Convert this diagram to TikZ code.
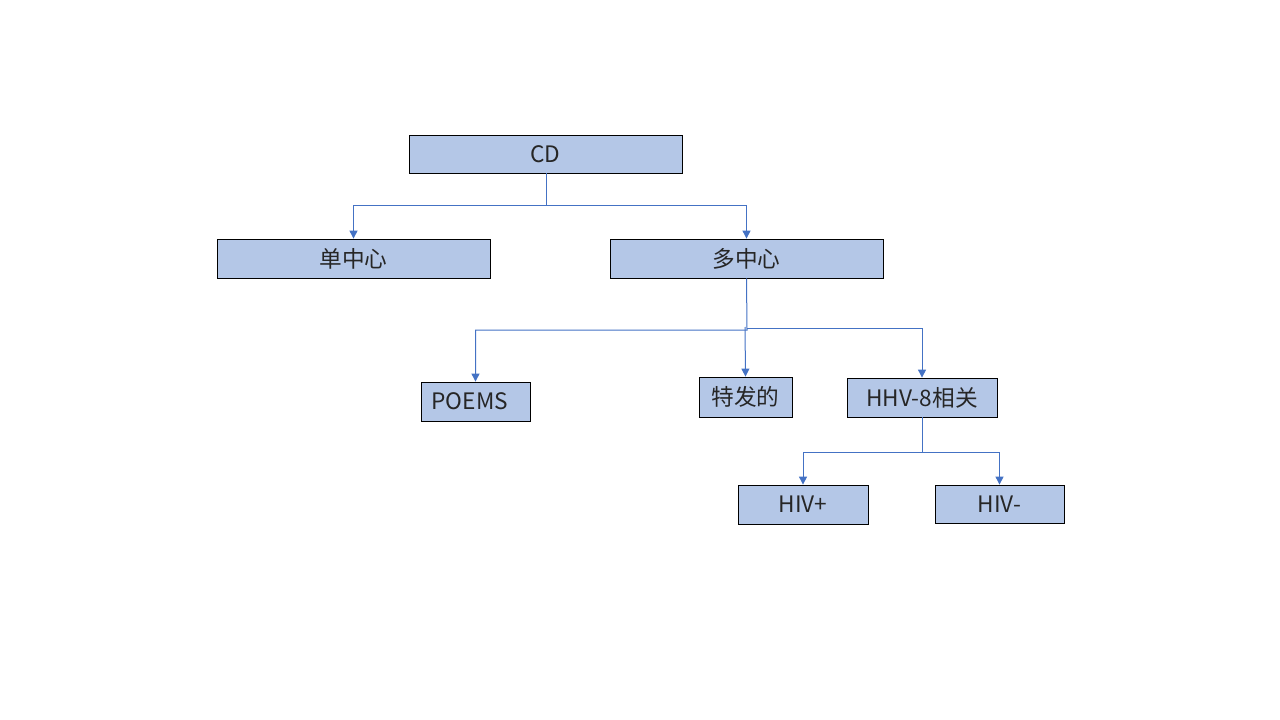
\documentclass[tikz,border=0pt]{standalone}
\usepackage{fontspec}
\setmainfont{Noto Sans CJK SC}
\usetikzlibrary{arrows.meta}
\definecolor{boxfill}{HTML}{B4C7E7}
\definecolor{linkblue}{HTML}{4472C4}
\tikzset{
  box/.style={draw=black, line width=0.6pt, fill=boxfill, inner sep=0pt, font=\fontsize{17}{20}\selectfont, text=black!85},
  link/.style={draw=linkblue, line width=0.75pt, -{Triangle[length=6pt,width=6pt]}},
}
\begin{document}
\begin{tikzpicture}[x=0.75pt,y=-0.75pt]
\useasboundingbox (0,0) rectangle (1280,720);
\node[box, minimum width=204.75pt, minimum height=28.5pt] (cd) at (545.5,154) {CD};
\node[box, minimum width=204.75pt, minimum height=29.25pt] (dan) at (353.5,258.5) {单中心};
\node[box, minimum width=204.75pt, minimum height=29.25pt] (duo) at (746.5,258.5) {多中心};
\node[box, minimum width=81.75pt, minimum height=29.25pt, text width=66pt, align=left] (poems) at (475.5,401.5) {POEMS};
\node[box, minimum width=69.75pt, minimum height=30pt] (tef) at (745.5,397) {特发的};
\node[box, minimum width=112.5pt, minimum height=29.25pt] (hhv) at (922,397.5) {HHV-8相关};
\node[box, minimum width=97.5pt, minimum height=29.25pt] (hivp) at (803,504.5) {HIV+};
\node[box, minimum width=96.75pt, minimum height=28.5pt] (hivm) at (999.5,504) {HIV-};
\coordinate (j1) at (546,206);
\coordinate (j2) at (747,330);
\coordinate (j3) at (922,452);
\draw[link] (cd.south -| j1) -- (j1) -| (dan.north);
\draw[link] (j1) -| (duo.north);
\draw[link] (duo.south) -- (j2) -| (poems.north);
\draw[link] (745,327) -- (tef.north);
\draw[link] (747,328) -| (hhv.north);
\draw[link] (hhv.south) -- (j3) -| (hivp.north);
\draw[link] (j3) -| (hivm.north);
\end{tikzpicture}
\end{document}
